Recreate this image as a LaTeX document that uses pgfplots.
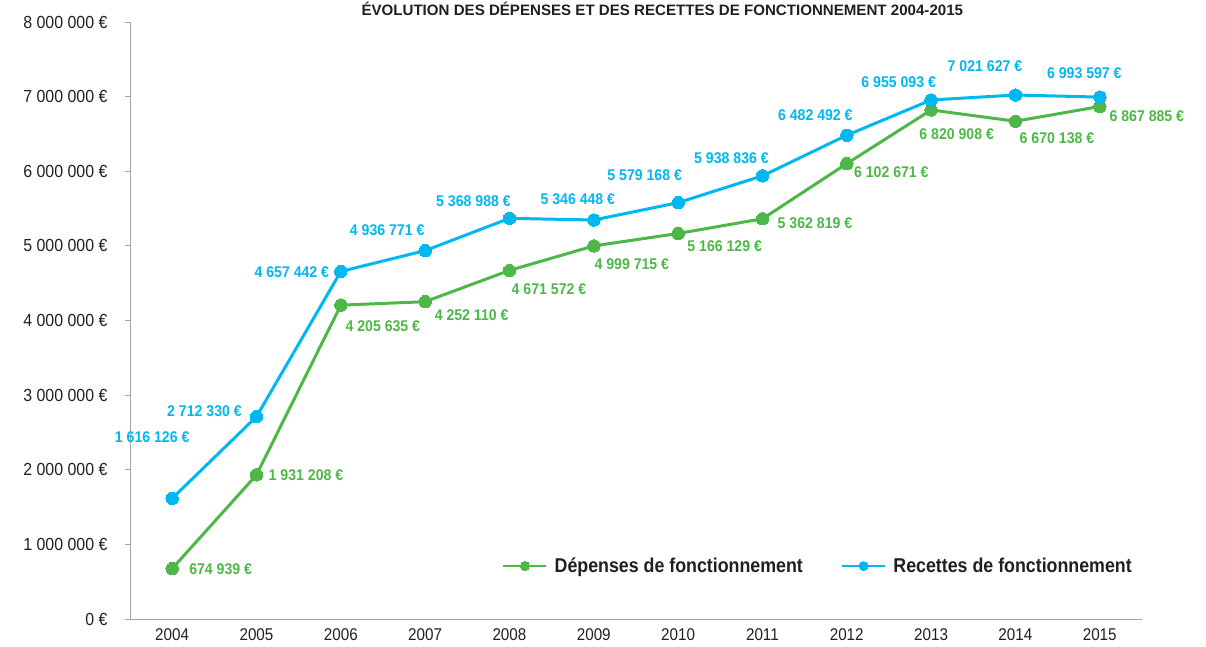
\documentclass[border=0pt]{standalone}
\usepackage{fontspec}
\setmainfont{Liberation Sans}[FakeStretch=0.91]
\newfontfamily\titlefont{Liberation Sans}
\newfontfamily\legfont{Liberation Sans}[FakeStretch=0.89]
\newfontfamily\xfont{Liberation Sans}[FakeStretch=0.895]
\usepackage{pgfplots}
\usepackage{pgfplotstable}
\pgfplotsset{compat=1.18}
\definecolor{cgreen}{RGB}{77,184,72}
\definecolor{cblue}{RGB}{0,184,240}
\definecolor{cgray}{RGB}{165,165,165}
\definecolor{ctext}{RGB}{35,31,32}

\pgfplotstableread[col sep=comma]{
x,y,dx,dy,label
2004,674939,48.5,-1,674 939 €
2005,1931208,49.5,0,1 931 208 €
2006,4205635,42,-21,4 205 635 €
2007,4252110,46.5,-13,4 252 110 €
2008,4671572,39.5,-19,4 671 572 €
2009,4999715,38,-18,4 999 715 €
2010,5166129,46.5,-13,5 166 129 €
2011,5362819,52.5,-4,5 362 819 €
2012,6102671,44.5,-9,6 102 671 €
2013,6820908,25.5,-24,6 820 908 €
2014,6670138,41.5,-17,6 670 138 €
2015,6867885,47,-10,6 867 885 €
}\depenses

\pgfplotstableread[col sep=comma]{
x,y,dx,dy,label
2004,1616126,-20,61,1 616 126 €
2005,2712330,-52,5,2 712 330 €
2006,4657442,-49,-1,4 657 442 €
2007,4936771,-38,20,4 936 771 €
2008,5368988,-36,17,5 368 988 €
2009,5346448,-16,21,5 346 448 €
2010,5579168,-33.5,27,5 579 168 €
2011,5938836,-31,18,5 938 836 €
2012,6482492,-31.5,20,6 482 492 €
2013,6955093,-32.5,18,6 955 093 €
2014,7021627,-30.5,29,7 021 627 €
2015,6993597,-15.5,24,6 993 597 €
}\recettes

\begin{document}
\begin{tikzpicture}
\useasboundingbox (-130pt,-27pt) rectangle (1076pt,619pt);
\begin{axis}[
  scale only axis,
  width=1012pt, height=597pt,
  xmin=2003.5, xmax=2015.5,
  ymin=0, ymax=8000000,
  scaled y ticks=false,
  clip=false,
  axis lines*=left,
  axis line style={cgray, line width=0.8pt},
  xtick={2004,...,2015},
  xticklabels={2004,2005,2006,2007,2008,2009,2010,2011,2012,2013,2014,2015},
  extra x ticks={2003.5,2004.5,...,2015.5},
  extra x tick labels={},
  extra x tick style={major tick length=5pt, tick style={cgray, line width=0.8pt}, tick align=outside},
  x tick style={draw=none},
  ytick={0,1000000,...,8000000},
  yticklabels={0 €,1 000 000 €,2 000 000 €,3 000 000 €,4 000 000 €,5 000 000 €,6 000 000 €,7 000 000 €,8 000 000 €},
  y tick style={cgray, line width=0.8pt},
  tick align=outside,
  major tick length=5pt,
  xticklabel style={font=\xfont\fontsize{17}{17}\selectfont, text=ctext, yshift=-1pt},
  yticklabel style={font=\fontsize{17.5}{17.5}\selectfont, text=ctext, xshift=-14pt},
  title={ÉVOLUTION DES DÉPENSES ET DES RECETTES DE FONCTIONNEMENT 2004-2015},
  title style={at={(0.526,1.012)}, anchor=center, font=\titlefont\bfseries\fontsize{15.1}{15.1}\selectfont, text=ctext},
  legend style={at={(0.3646,0.0888)}, anchor=west, draw=none, fill=none,
    font=\legfont\bfseries\fontsize{20}{20}\selectfont, text=ctext,
    /tikz/every even column/.append style={column sep=36pt}},
  legend columns=2,
  legend cell align=left,
  legend image code/.code={\draw[mark repeat=2,mark phase=2, line width=2.5pt, mark size=4.5pt] plot coordinates {(0pt,0pt) (21.5pt,0pt) (43pt,0pt)};},
]
\addplot[cgreen, line width=3pt, mark=*, mark size=6.2pt, mark options={solid, fill=cgreen, draw=cgreen, line width=0pt}] table[x=x, y=y] {\depenses};
\addlegendentry{\hspace{5pt}Dépenses de fonctionnement}
\addplot[cblue, line width=3pt, mark=*, mark size=6.2pt, mark options={solid, fill=cblue, draw=cblue, line width=0pt}] table[x=x, y=y] {\recettes};
\addlegendentry{\hspace{5pt}Recettes de fonctionnement}

\addplot[draw=none, mark=none, forget plot, point meta=explicit symbolic,
  nodes near coords,
  visualization depends on={\thisrow{dx}\as\dx},
  visualization depends on={\thisrow{dy}\as\dy},
  every node near coord/.append style={anchor=center, xshift=\dx pt, yshift=\dy pt, inner sep=0pt,
    font=\bfseries\fontsize{15.5}{15.5}\selectfont, text=cgreen}]
  table[x=x, y=y, meta=label] {\depenses};
\addplot[draw=none, mark=none, forget plot, point meta=explicit symbolic,
  nodes near coords,
  visualization depends on={\thisrow{dx}\as\dx},
  visualization depends on={\thisrow{dy}\as\dy},
  every node near coord/.append style={anchor=center, xshift=\dx pt, yshift=\dy pt, inner sep=0pt,
    font=\bfseries\fontsize{15.5}{15.5}\selectfont, text=cblue}]
  table[x=x, y=y, meta=label] {\recettes};
\end{axis}
\end{tikzpicture}
\end{document}
